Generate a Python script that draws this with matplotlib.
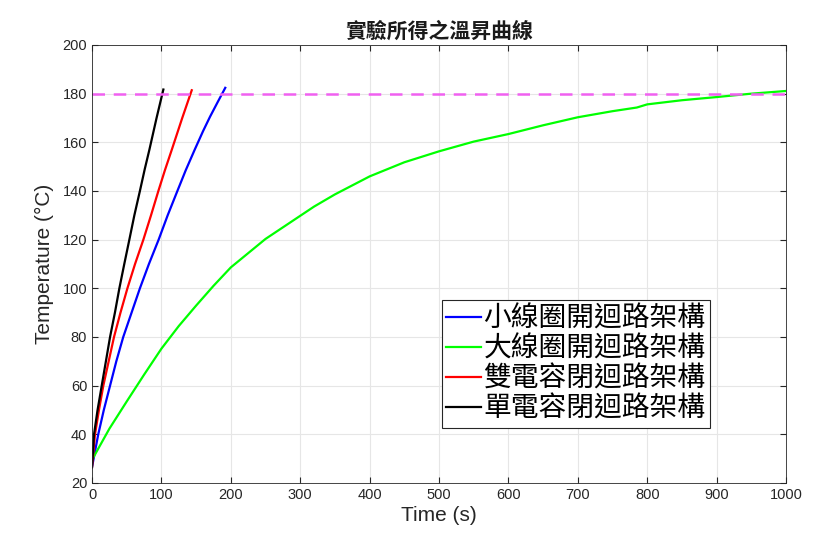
import matplotlib.pyplot as plt

plt.rcParams['font.family'] = ['Liberation Sans', 'Noto Sans CJK TC', 'DejaVu Sans']

# 讀取圖中的曲線數值 (時間 s, 溫度 °C)
t_small = [0, 3, 9, 17, 26, 35, 45, 57, 69, 82, 96, 109, 123, 135, 148, 160, 170, 181, 192]
T_small = [26.5, 31, 40, 50, 60, 70, 80, 90, 100, 110, 120, 130, 140, 148.5, 157, 164.6,
           170.5, 176.5, 182.4]

t_big = [0, 25, 50, 75, 100, 125, 150, 175, 200, 250, 300, 320, 350, 400, 450, 500, 550,
         600, 650, 700, 750, 785, 800, 850, 900, 950, 1000]
T_big = [29.5, 42.3, 53.5, 64.5, 75.2, 84.5, 92.9, 101.0, 108.6, 120.3, 129.8, 133.6, 138.6,
         146.0, 151.8, 156.3, 160.3, 163.4, 167.0, 170.3, 172.8, 174.3, 175.6, 177.3, 178.6,
         180.0, 181.1]

t_double = [0, 4.3, 10, 16.3, 24, 31.7, 41, 51, 62, 74, 85, 95.6, 105, 115, 130, 143.7]
T_double = [26.5, 40, 50, 60, 70, 80, 90, 100, 110, 120, 130, 140, 148.5, 157, 170, 181.4]

t_single = [0, 2.9, 8, 14, 20, 26, 33, 39.4, 46.5, 53.8, 61, 69, 76, 82.7, 93, 102.8]
T_single = [26.5, 40, 50, 60, 70, 80, 90, 100, 110, 120, 130, 140, 149, 157, 170, 181.7]

target_T = 180
labels = ['小線圈開迴路架構', '大線圈開迴路架構', '雙電容閉迴路架構', '單電容閉迴路架構']

fig = plt.figure(figsize=(8.38, 5.46), dpi=100)
ax = fig.add_axes([0.1098, 0.1154, 0.8282, 0.8022])

ax.plot(t_small, T_small, color='#0000ff', lw=1.6, label=labels[0])
ax.plot(t_big, T_big, color='#00ff00', lw=1.6, label=labels[1])
ax.plot(t_double, T_double, color='#ff0000', lw=1.6, label=labels[2])
ax.plot(t_single, T_single, color='#000000', lw=1.6, label=labels[3])
ax.axhline(target_T, color='#f060f0', lw=1.8, ls=(0, (5, 3.5)))

ax.set_xlim(0, 1000)
ax.set_ylim(20, 200)
ax.set_xticks(range(0, 1001, 100))
ax.set_yticks(range(20, 201, 20))
ax.grid(True, color='#e6e6e6', lw=0.8)
ax.set_axisbelow(True)
ax.tick_params(direction='in', top=True, right=True, labelsize=10.5,
               colors='#262626', length=4)
for s in ax.spines.values():
    s.set_color('#262626')
    s.set_linewidth(0.6)

ax.set_title('實驗所得之溫昇曲線', fontsize=15, fontweight='bold', color='#1a1a1a', pad=5,
             family=['Noto Sans CJK TC'])
ax.set_xlabel('Time (s)', fontsize=15, color='#262626', labelpad=3)
ax.set_ylabel('Temperature (°C)', fontsize=15, color='#262626', labelpad=6)

leg = ax.legend(loc='lower left', bbox_to_anchor=(0.504, 0.1256),
                prop={'family': ['Noto Sans CJK TC'], 'size': 20},
                handlelength=1.25, handletextpad=0.1, borderpad=0.15,
                labelspacing=0.0, borderaxespad=0, fancybox=False,
                framealpha=1, edgecolor='#262626')
leg.get_frame().set_linewidth(0.8)

plt.savefig('out.png', dpi=100)
